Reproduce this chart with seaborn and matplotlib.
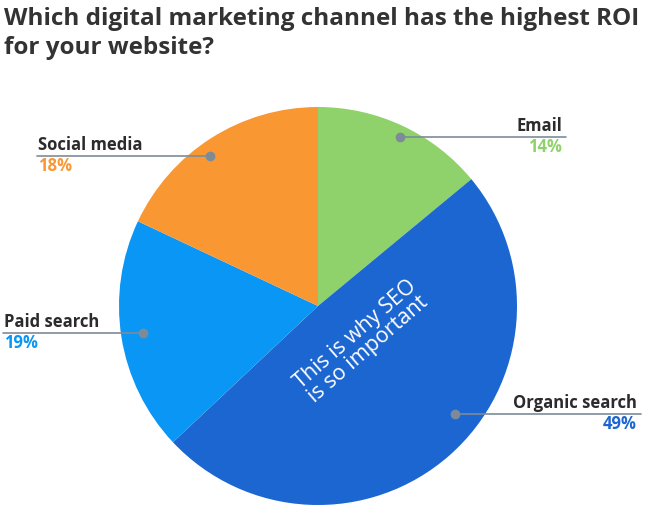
import matplotlib
matplotlib.use("Agg")
import matplotlib.pyplot as plt
import seaborn as sns

# data
channels = ["Email", "Organic search", "Paid search", "Social media"]
shares = [14, 49, 19, 18]
slice_colors = ["#8fd16a", "#1c66d1", "#0a96f5", "#f99733"]
title = "Which digital marketing channel has the highest ROI\nfor your website?"
note = "This is why SEO\nis so important"

sns.set_theme(style="white")
plt.rcParams['font.family'] = ['Open Sans', 'DejaVu Sans']

W, H = 647, 507
fig = plt.figure(figsize=(W / 100, H / 100), dpi=100)
ax = fig.add_axes([0, 0, 1, 1])

def py(y):
    # pixel row -> data y
    return H - y

cx, cy, r = 318, py(306), 199
ax.pie(shares, colors=slice_colors, startangle=90, counterclock=False,
       center=(cx, cy), radius=r, wedgeprops=dict(linewidth=0))

# label layout: dot (x, y), line end x, text anchor side
layout = {
    "Email":          dict(dot=(400, 137), end=566, ha="right"),
    "Social media":   dict(dot=(210, 156), end=37, ha="left"),
    "Paid search":    dict(dot=(143, 333), end=3, ha="left"),
    "Organic search": dict(dot=(455, 414), end=641, ha="right"),
}
line_col = "#7d8b99"
for name, val, col in zip(channels, shares, slice_colors):
    L = layout[name]
    dx, dy = L["dot"]
    ax.plot([dx, L["end"]], [py(dy), py(dy)], color=line_col, lw=1.2, zorder=3)
    ax.plot(dx, py(dy), "o", color=line_col, ms=6, zorder=4)
    if L["ha"] == "left":
        tx = L["end"] + 1
    else:
        tx = L["end"] - 4
    ax.text(tx, py(dy) + 2, name, ha=L["ha"], va="bottom", fontsize=12,
            fontweight="bold", color="#2b2b2b")
    ax.text(tx, py(dy) - 1, f"{val}%", ha=L["ha"], va="top", fontsize=12,
            fontweight="bold", color=col)

ax.text(362, py(342), note, rotation=41, ha="center", va="center",
        fontsize=15.5, color="white", linespacing=0.95,
        rotation_mode="anchor")

ax.text(4, py(7), title, ha="left", va="top", fontsize=17.5,
        fontweight="bold", color="#333333", linespacing=1.3)

ax.set_xlim(0, W)
ax.set_ylim(0, H)
ax.set_aspect("equal")
ax.axis("off")

fig.savefig("out.png", dpi=100)
